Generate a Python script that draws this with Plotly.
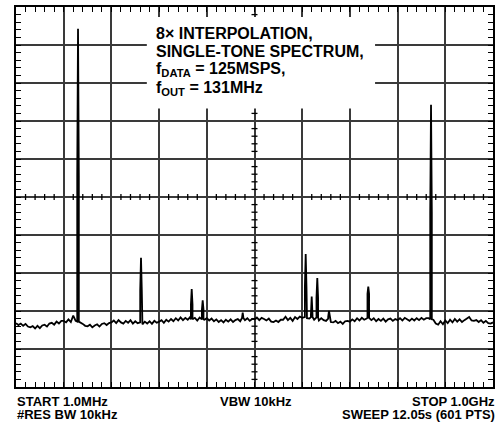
import plotly.graph_objects as go

# ---- data ----
# sweep 1.0 MHz .. 1.0 GHz, noise trace sampled every 3rd sweep point (~5 MHz)
start_mhz = 1.0
stop_mhz = 1000.0
noise_step_mhz = 4.995
sweep_bin_mhz = 1.665

noise_db = [
    -83.2, -83.7, -83.3, -83.9, -83.4, -84.1, -84.3, -84.0, -84.6, -83.9,
    -84.5, -83.8, -83.6, -84.1, -83.3, -83.1, -83.6, -82.8, -83.3, -82.6,
    -82.6, -83.0, -82.2, -82.9, -81.2, -82.6, -82.8, -83.0, -83.4, -83.9,
    -84.0, -83.6, -84.3, -83.8, -83.5, -84.1, -83.4, -83.2, -83.7, -83.2,
    -83.0, -82.5, -83.2, -82.4, -83.0, -83.3, -82.6, -83.1, -82.4, -83.3,
    -82.7, -83.2, -83.0, -83.5, -82.8, -83.3, -82.7, -83.4, -82.6, -83.1,
    -82.8, -82.4, -83.1, -82.3, -82.8, -82.1, -82.7, -81.9, -82.5, -81.7,
    -82.4, -81.8, -82.3, -81.6, -82.2, -81.8, -82.5, -81.7, -82.2, -82.3,
    -81.9, -82.5, -82.0, -82.7, -82.2, -82.9, -82.4, -83.0, -82.3, -82.8,
    -82.2, -82.9, -82.4, -82.1, -82.7, -81.9, -82.4, -81.9, -82.6, -82.1,
    -82.2, -81.7, -82.4, -81.8, -82.1, -82.5, -82.0, -82.8, -82.9, -82.5,
    -82.9, -82.3, -82.3, -81.5, -82.4, -81.8, -82.6, -81.6, -82.1, -81.5,
    -81.8, -81.6, -81.9, -82.0, -81.6, -82.3, -81.7, -82.5, -81.9, -82.4,
    -82.6, -82.0, -82.9, -83.0, -82.6, -83.2, -82.8, -83.4, -82.7, -82.6,
    -82.8, -82.2, -82.7, -81.9, -82.5, -81.8, -82.3, -82.0, -81.8, -82.4,
    -81.9, -82.7, -82.1, -82.6, -82.0, -82.8, -82.2, -82.0, -82.6, -82.1,
    -82.4, -81.9, -82.5, -81.8, -82.3, -82.6, -82.0, -82.5, -81.9, -82.4,
    -81.8, -82.3, -81.9, -81.9, -82.2, -82.3, -83.3, -83.6, -82.7, -83.5,
    -82.5, -83.2, -82.3, -83.0, -82.1, -82.8, -82.2, -82.9, -82.4, -82.0,
    -81.6, -82.5, -82.6, -82.4, -82.9, -82.4, -83.1, -82.6, -83.2, -83.3,
    -83.0,
]

spur_freq = [130.9, 262.8, 369.0, 392.0, 475.8, 607.7, 620.3, 632.0, 656.5, 738.8, 870.2]
spur_top = [-5.7, -66.0, -74.2, -77.2, -80.4, -65.0, -76.2, -71.3, -80.0, -73.6, -25.7]
spur_skirt = [-44.5, -74.6, -78.3, -79.6, -82.0, -73.6, -81.0, -76.5, -81.5, -75.5, -54.1]

note_lines = [
    "<b>8× INTERPOLATION,</b>",
    "<b>SINGLE-TONE SPECTRUM,</b>",
    "<b>f<sub>DATA</sub> = 125MSPS,</b>",
    "<b>f<sub>OUT</sub> = 131MHz</b>",
]
footer_left = ["<b>START 1.0MHz</b>", "<b>#RES BW 10kHz</b>"]
footer_mid = "<b>VBW 10kHz</b>"
footer_right = ["<b>STOP 1.0GHz</b>", "<b>SWEEP 12.05s (601 PTS)</b>"]

# ---- build the trace ----
noise_freq = [start_mhz + i * noise_step_mhz for i in range(len(noise_db))]
pts = [(f, d) for f, d in zip(noise_freq, noise_db)
       if all(abs(f - s) > 2.6 for s in spur_freq)]
for s, t, k in zip(spur_freq, spur_top, spur_skirt):
    # nearest noise level beside the spur, so the skirt rises straight up
    base = min(zip(noise_freq, noise_db), key=lambda p: abs(p[0] - s))[1]
    pts += [(s - 1.01 * sweep_bin_mhz, base), (s - sweep_bin_mhz, k), (s, t),
            (s + sweep_bin_mhz, k), (s + 1.01 * sweep_bin_mhz, base)]
pts.sort()
xs = [p[0] for p in pts]
ys = [p[1] for p in pts]

FONT = "Arial, Liberation Sans, Helvetica, sans-serif"
GRID = "#3a3a3a"

fig = go.Figure()
fig.add_trace(go.Scatter(x=xs, y=ys, mode="lines",
                         line=dict(color="black", width=1.8), hoverinfo="skip"))

xdiv = (stop_mhz - start_mhz) / 10
ydiv = 10
fig.update_xaxes(range=[start_mhz, stop_mhz], tick0=start_mhz, dtick=xdiv,
                 showgrid=True, gridcolor=GRID, gridwidth=1.6, zeroline=False,
                 showline=True, linecolor="black", linewidth=2, mirror="allticks",
                 ticks="inside", ticklen=5, tickwidth=1.3, tickcolor="black",
                 showticklabels=False,
                 minor=dict(tick0=start_mhz, dtick=xdiv / 5, ticks="inside", ticklen=5,
                            tickwidth=1.3, tickcolor="black", showgrid=False))
fig.update_yaxes(range=[-100, 0], tick0=0, dtick=ydiv,
                 showgrid=True, gridcolor=GRID, gridwidth=1.6, zeroline=False,
                 showline=True, linecolor="black", linewidth=2, mirror="allticks",
                 ticks="inside", ticklen=5, tickwidth=1.3, tickcolor="black",
                 showticklabels=False,
                 minor=dict(tick0=0, dtick=ydiv / 5, ticks="inside", ticklen=5,
                            tickwidth=1.3, tickcolor="black", showgrid=False))

shapes = []
xc = start_mhz + 5 * xdiv
yc = -50
for k in range(1, 50):
    if k % 5 == 0:
        continue
    shapes.append(dict(type="line", xref="x", yref="y", x0=start_mhz + k * xdiv / 5,
                       x1=start_mhz + k * xdiv / 5, ysizemode="pixel", yanchor=yc,
                       y0=-3, y1=3, line=dict(color="black", width=1.3), layer="above"))
    shapes.append(dict(type="line", xref="x", yref="y", y0=-k * 2, y1=-k * 2,
                       xsizemode="pixel", xanchor=xc, x0=-3, x1=3,
                       line=dict(color="black", width=1.3), layer="above"))
# white label box
shapes.append(dict(type="rect", xref="x", yref="y", x0=275, x1=753, y0=-26.7, y1=-2.6,
                   fillcolor="white", line=dict(width=0), layer="above"))
fig.update_layout(shapes=shapes)

def py(p):
    return (387 - p) / 382.0

def px(p):
    return (p - 16) / 477.0

ann = []
for line, ymid in zip(note_lines, [31.5, 50, 68, 86.5]):
    ann.append(dict(text=line, xref="paper", yref="paper", x=px(154), y=py(ymid),
                    xanchor="left", yanchor="middle", showarrow=False,
                    font=dict(family=FONT, size=16, color="black", weight="bold")))
for line, ymid in zip(footer_left, [402, 415]):
    ann.append(dict(text=line, xref="paper", yref="paper", x=px(15), y=py(ymid),
                    xanchor="left", yanchor="middle", showarrow=False,
                    font=dict(family=FONT, size=13, color="black", weight="bold")))
ann.append(dict(text=footer_mid, xref="paper", yref="paper", x=px(256), y=py(402),
                xanchor="center", yanchor="middle", showarrow=False,
                font=dict(family=FONT, size=13, color="black", weight="bold")))
for line, ymid in zip(footer_right, [402, 415]):
    ann.append(dict(text=line, xref="paper", yref="paper", x=px(497), y=py(ymid),
                    xanchor="right", yanchor="middle", showarrow=False,
                    font=dict(family=FONT, size=13, color="black", weight="bold")))

fig.update_layout(width=500, height=428, margin=dict(l=16, r=7, t=5, b=41),
                  paper_bgcolor="white", plot_bgcolor="white", showlegend=False,
                  annotations=ann)

fig.write_html("out.html", config={"displayModeBar": False},
               post_script="document.body.style.margin='0';document.body.style.padding='0';")
